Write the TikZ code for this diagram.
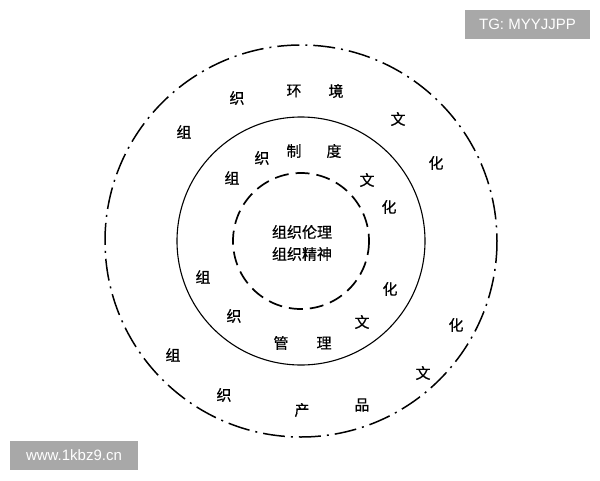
\documentclass[tikz,border=0pt]{standalone}
\usepackage{fontspec}
\setmainfont{Liberation Sans}
\newfontfamily\cjk[FakeBold=0.6]{Noto Sans CJK SC}
\begin{document}
\begin{tikzpicture}[x=1pt,y=-1pt,
  ch/.style={font=\cjk\fontsize{15}{17}\selectfont, inner sep=0pt},
  wm/.style={fill=black!34, text=white, font=\fontsize{15}{17}\selectfont, inner sep=0pt, minimum height=29pt}]
\useasboundingbox (0,0) rectangle (600,480);
\coordinate (c) at (301,241);
\draw[line width=1.5pt, dash pattern=on 22pt off 6pt on 2pt off 6pt] (c) circle (196);
\draw[line width=1.1pt] (c) circle (124);
\draw[line width=1.7pt, dash pattern=on 14pt off 7pt] (c) circle (68);
% outer ring
\node[ch] (o1) at (184,132) {组};
\node[ch] (o2) at (237,98) {织};
\node[ch] (o3) at (294,91) {环};
\node[ch] (o4) at (336,91) {境};
\node[ch] (o5) at (398,119) {文};
\node[ch] (o6) at (436,163) {化};
\node[ch] (o7) at (456,325) {化};
\node[ch] (o8) at (423,373) {文};
\node[ch] (o9) at (362,405) {品};
\node[ch] (o10) at (302,410) {产};
\node[ch] (o11) at (224,395) {织};
\node[ch] (o12) at (173,355) {组};
% middle ring
\node[ch] (m1) at (232,178) {组};
\node[ch] (m2) at (262,158) {织};
\node[ch] (m3) at (294,151) {制};
\node[ch] (m4) at (334,151) {度};
\node[ch] (m5) at (367,180) {文};
\node[ch] (m6) at (389,207) {化};
\node[ch] (m7) at (390,289) {化};
\node[ch] (m8) at (362,322) {文};
\node[ch] (m9) at (324,343) {理};
\node[ch] (m10) at (281,343) {管};
\node[ch] (m11) at (234,316) {织};
\node[ch] (m12) at (203,277) {组};
% center
\node[ch] (i1) at (302,232) {组织伦理};
\node[ch] (i2) at (302,254) {组织精神};
% watermarks
\node[wm, minimum width=125pt] (w1) at (527.5,24.5) {TG: MYYJJPP};
\node[wm, minimum width=128pt] (w2) at (74,455) {www.1kbz9.cn};
\end{tikzpicture}
\end{document}
